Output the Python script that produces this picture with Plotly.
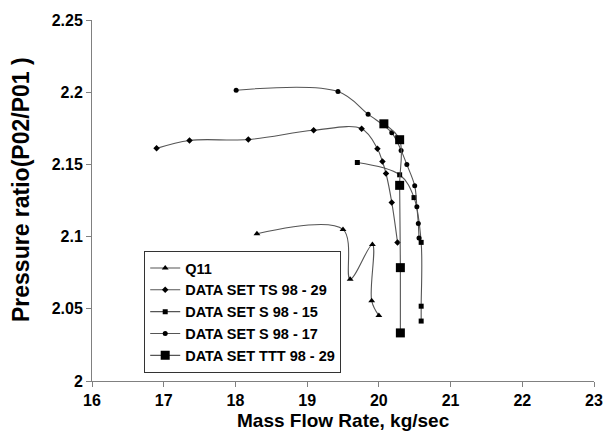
import plotly.graph_objects as go

# ---- data ----
q11_x = [18.30, 19.50, 19.60, 19.91, 19.90, 20.00]
q11_y = [2.1020, 2.1050, 2.0705, 2.0945, 2.0555, 2.0453]

ts_x = [16.90, 17.36, 18.18, 19.09, 19.76, 19.98, 20.05, 20.10, 20.18, 20.26]
ts_y = [2.1611, 2.1666, 2.1672, 2.1736, 2.1747, 2.1609, 2.1520, 2.1437, 2.1237, 2.0960]

s15_x = [19.70, 20.29, 20.49, 20.59, 20.59, 20.59]
s15_y = [2.1513, 2.1428, 2.1270, 2.0960, 2.0518, 2.0415]

s17_x = [18.01, 19.43, 19.85, 20.18, 20.31, 20.39, 20.50, 20.53, 20.55, 20.56]
s17_y = [2.2014, 2.2005, 2.1848, 2.1719, 2.1597, 2.1499, 2.1352, 2.1207, 2.1090, 2.0990]

ttt_x = [20.07, 20.29, 20.29, 20.30, 20.30]
ttt_y = [2.1781, 2.1671, 2.1355, 2.0785, 2.0333]

x_ticks = [16, 17, 18, 19, 20, 21, 22, 23]
y_ticks = [2.0, 2.05, 2.1, 2.15, 2.2, 2.25]
y_tick_text = ["2", "2.05", "2.1", "2.15", "2.2", "2.25"]

series = [
    ("Q11", q11_x, q11_y, "triangle-up", 6),
    ("DATA SET TS 98 - 29", ts_x, ts_y, "diamond", 5),
    ("DATA SET S 98 - 15", s15_x, s15_y, "square", 5),
    ("DATA SET S 98 - 17", s17_x, s17_y, "circle", 5),
    ("DATA SET TTT 98 - 29", ttt_x, ttt_y, "square", 9),
]

FONT = "Liberation Sans, Arial, sans-serif"
LINE = "#555555"

fig = go.Figure()
for name, xs, ys, sym, size in series:
    fig.add_trace(go.Scatter(
        x=xs, y=ys, name=name, mode="lines+markers",
        line=dict(color=LINE, width=1.1, shape="spline", smoothing=1),
        marker=dict(symbol=sym, size=size, color="black", line=dict(width=0)),
    ))

axis_common = dict(
    showgrid=False, zeroline=False, showline=True, linecolor="#808080",
    linewidth=1, ticks="outside", ticklen=5, tickcolor="#808080",
    tickfont=dict(family=FONT, size=16, color="black", weight="bold"),
)

fig.update_layout(
    width=615, height=432,
    margin=dict(l=92, r=20, t=18, b=51),
    paper_bgcolor="white", plot_bgcolor="white",
    font=dict(family=FONT, color="black"),
    xaxis=dict(range=[16, 23], tickvals=x_ticks, **axis_common),
    yaxis=dict(range=[2.0, 2.25], tickvals=y_ticks, ticktext=y_tick_text, **axis_common),
    legend=dict(
        x=0.104, y=0.360, xanchor="left", yanchor="top",
        bgcolor="white", bordercolor="#333333", borderwidth=1,
        font=dict(family=FONT, size=14.5, color="black", weight="bold"),
        tracegroupgap=0, itemwidth=30,
    ),
    showlegend=True,
    annotations=[
        dict(text="<b>Mass Flow Rate, kg/sec</b>", xref="paper", yref="paper",
             x=0.501, y=-0.110, xanchor="center", yanchor="middle", showarrow=False,
             font=dict(family=FONT, size=19, color="black")),
        dict(text="<b>Pressure ratio(P02/P01 )</b>", xref="paper", yref="paper",
             x=-0.140, y=0.531, xanchor="center", yanchor="middle", showarrow=False,
             textangle=-90, font=dict(family=FONT, size=23, color="black")),
    ],
)

fig.write_html("out.html")
